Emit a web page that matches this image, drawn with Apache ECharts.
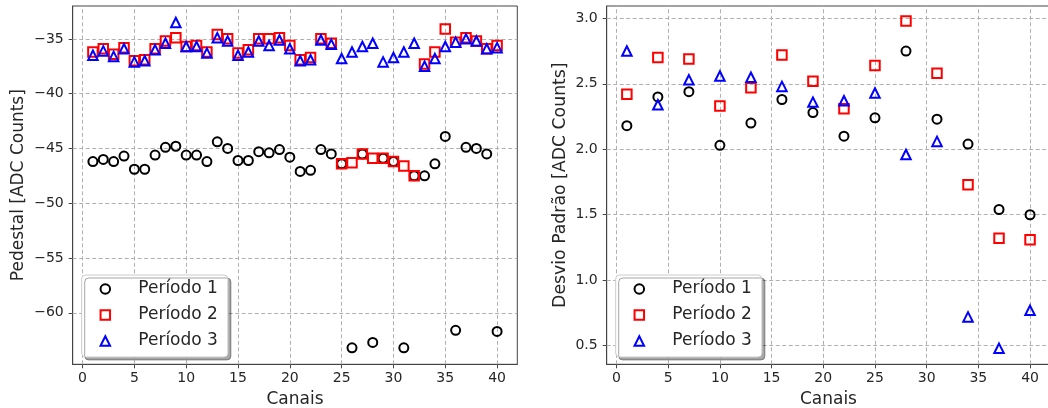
<!DOCTYPE html>
<html>
<head>
<meta charset="utf-8">
<script src="https://cdn.jsdelivr.net/npm/echarts@6/dist/echarts.min.js"></script>
<style>
html,body{margin:0;padding:0;background:#fff;}
#chart{width:1048px;height:408px;}
</style>
</head>
<body>
<div id="chart"></div>
<script>
// ---- data ----
const channelsLeft = [1,2,3,4,5,6,7,8,9,10,11,12,13,14,15,16,17,18,19,20,21,22,23,24,25,26,27,28,29,30,31,32,33,34,35,36,37,38,39,40];
const pedP1 = [-46.2,-46.0,-46.2,-45.7,-46.9,-46.9,-45.6,-44.9,-44.8,-45.6,-45.6,-46.2,-44.4,-45.0,-46.1,-46.1,-45.3,-45.4,-45.1,-45.8,-47.1,-47.0,-45.1,-45.5,-46.4,-63.2,-45.5,-62.7,-45.9,-46.2,-63.2,-47.5,-47.5,-46.4,-43.9,-61.6,-44.9,-45.0,-45.5,-61.7];
const pedP2 = [-36.2,-35.9,-36.4,-35.8,-37.0,-36.9,-35.9,-35.2,-34.9,-35.7,-35.6,-36.2,-34.6,-35.0,-36.3,-36.0,-35.0,-35.0,-34.9,-35.6,-36.9,-36.7,-35.0,-35.4,-46.4,-46.3,-45.5,-45.9,-45.9,-46.2,-46.6,-47.5,-37.3,-36.2,-34.1,-35.3,-34.9,-35.2,-35.9,-35.6];
const pedP3 = [-36.5,-36.1,-36.6,-35.9,-37.1,-37.0,-36.0,-35.4,-33.5,-35.7,-35.7,-36.3,-34.9,-35.2,-36.5,-36.2,-35.2,-35.6,-35.1,-35.9,-37.0,-36.9,-35.1,-35.5,-36.8,-36.2,-35.7,-35.4,-37.1,-36.7,-36.2,-35.4,-37.5,-36.8,-35.7,-35.3,-35.0,-35.2,-35.9,-35.8];

const channelsRight = [1,4,7,10,13,16,19,22,25,28,31,34,37,40];
const stdP1 = [2.18,2.40,2.44,2.03,2.20,2.38,2.28,2.10,2.24,2.75,2.23,2.04,1.54,1.50];
const stdP2 = [2.42,2.70,2.69,2.33,2.47,2.72,2.52,2.31,2.64,2.98,2.58,1.73,1.32,1.31];
const stdP3 = [2.75,2.34,2.53,2.56,2.55,2.48,2.36,2.37,2.43,1.96,2.06,0.72,0.48,0.77];

const xTicks = [0,5,10,15,20,25,30,35,40];
const leftYTicks = [-60,-55,-50,-45,-40,-35];
const rightYTicks = [0.5,1.0,1.5,2.0,2.5,3.0];
const seriesNames = ['Período 1','Período 2','Período 3'];

// ---- styles ----
const FONT = 'DejaVu Sans';
const TXT = '#262626';
const SPINE = '#444';
const GRIDC = '#b0b0b0';
const colors = ['#000000','#ff0000','#0000ff'];
const symbols = ['circle','rect','triangle'];
const sizes = [9,9.5,9.5];

function zip(xs, ys){ return xs.map((x,i)=>[x, ys[i]]); }
function isTick(v, ticks){ return ticks.some(t => Math.abs(t - v) < 1e-6); }

function xAxis(gridIndex){
  return {
    type:'value', gridIndex, min:-0.95, max:41.95, splitNumber:8,
    axisLine:{show:true, onZero:false, lineStyle:{color:SPINE, width:1}},
    axisTick:{show:true, length:4, lineStyle:{color:SPINE, width:1}, customValues:xTicks},
    axisLabel:{show:true, margin:7.5, fontFamily:FONT, fontSize:14, color:TXT, customValues:xTicks,
      formatter:v => isTick(v, xTicks) ? String(Math.round(v)) : ''},
    splitLine:{show:false},
    name:'Canais', nameLocation:'middle', nameGap:25,
    nameTextStyle:{fontFamily:FONT, fontSize:17, color:TXT}
  };
}

function legend(left){
  return {
    left, top:275, orient:'vertical', itemWidth:9.5, itemHeight:9.5, itemGap:9,
    padding:[5.5,10,7.5,17.85], selectedMode:false,
    backgroundColor:'#fff', borderColor:'#cccccc', borderWidth:1, borderRadius:4,
    shadowColor:'rgba(0,0,0,0.35)', shadowOffsetX:3, shadowOffsetY:3, shadowBlur:0,
    formatter: name => '{t|' + name + '}',
    textStyle:{rich:{t:{fontFamily:FONT, fontSize:17, color:TXT, padding:[0,0,0,23.25]}}},
    data: seriesNames.map((n,i)=>({name:n, icon:symbols[i],
      itemStyle:{color:'rgba(0,0,0,0)', borderColor:colors[i], borderWidth:2}}))
  };
}

// dashed grid lines drawn at the tick values through the axis scales
function gridLines(gridIdx, yTicks){
  return {
    type:'scatter', name:'grid' + gridIdx, xAxisIndex:gridIdx, yAxisIndex:gridIdx, data:[],
    silent:true, z:1,
    markLine:{
      silent:true, symbol:['none','none'], animation:false, z:1,
      label:{show:false}, emphasis:{disabled:true},
      lineStyle:{color:GRIDC, type:[4,2.5], width:1},
      data: xTicks.map(v=>({xAxis:v})).concat(yTicks.map(v=>({yAxis:v})))
    }
  };
}

function scatter(name, idx, gridIdx, data){
  return {
    type:'scatter', name, xAxisIndex:gridIdx, yAxisIndex:gridIdx, data, z:3,
    symbol:symbols[idx], symbolSize:sizes[idx],
    itemStyle:{color:'rgba(0,0,0,0)', borderColor:colors[idx], borderWidth:2, opacity:1},
    emphasis:{disabled:true}, silent:true
  };
}

const chart = echarts.init(document.getElementById('chart'), null, {renderer:'canvas'});
chart.setOption({
  animation:false,
  backgroundColor:'#fff',
  grid:[
    {left:72.7, top:6, width:444.6, height:358.3, outerBoundsMode:'none', containLabel:false,
      show:true, borderColor:SPINE, borderWidth:1, backgroundColor:'rgba(0,0,0,0)'},
    {left:606.7, top:6, width:443.5, height:358.3, outerBoundsMode:'none', containLabel:false,
      show:true, borderColor:SPINE, borderWidth:1, backgroundColor:'rgba(0,0,0,0)'}
  ],
  xAxis:[xAxis(0), xAxis(1)],
  yAxis:[
    {type:'value', gridIndex:0, min:-64.7, max:-32.0, splitNumber:6,
      axisLine:{show:true, onZero:false, lineStyle:{color:SPINE, width:1}},
      axisTick:{show:true, length:4, lineStyle:{color:SPINE, width:1}, customValues:leftYTicks},
      axisLabel:{margin:9, fontFamily:FONT, fontSize:14, color:TXT, customValues:leftYTicks,
        formatter:v => isTick(v, leftYTicks) ? '\u2212' + Math.abs(Math.round(v)) : ''},
      splitLine:{show:false},
      name:'Pedestal [ADC Counts]', nameLocation:'middle', nameGap:45.5,
      nameTextStyle:{fontFamily:FONT, fontSize:17, color:TXT}},
    {type:'value', gridIndex:1, min:0.358, max:3.094, splitNumber:5,
      axisLine:{show:true, onZero:false, lineStyle:{color:SPINE, width:1}},
      axisTick:{show:true, length:4, lineStyle:{color:SPINE, width:1}, customValues:rightYTicks},
      axisLabel:{margin:9, fontFamily:FONT, fontSize:14, color:TXT, customValues:rightYTicks,
        formatter:v => isTick(v, rightYTicks) ? v.toFixed(1) : ''},
      splitLine:{show:false},
      name:'Desvio Padrão [ADC Counts]', nameLocation:'middle', nameGap:38,
      nameTextStyle:{fontFamily:FONT, fontSize:17.3, color:TXT}}
  ],
  legend:[legend(81.7), legend(615.7)],
  series:[
    gridLines(0, leftYTicks),
    gridLines(1, rightYTicks),
    scatter(seriesNames[0],0,0,zip(channelsLeft,pedP1)),
    scatter(seriesNames[1],1,0,zip(channelsLeft,pedP2)),
    scatter(seriesNames[2],2,0,zip(channelsLeft,pedP3)),
    scatter(seriesNames[0],0,1,zip(channelsRight,stdP1)),
    scatter(seriesNames[1],1,1,zip(channelsRight,stdP2)),
    scatter(seriesNames[2],2,1,zip(channelsRight,stdP3))
  ]
});
</script>
</body>
</html>
